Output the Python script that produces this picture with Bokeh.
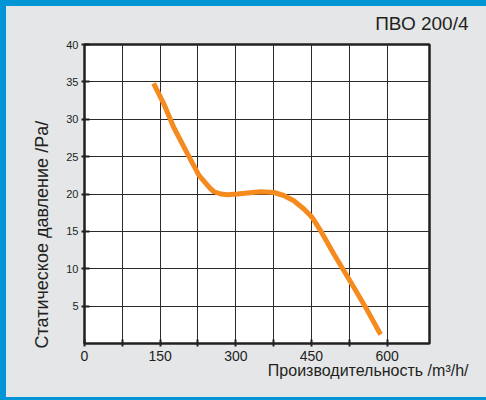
from bokeh.plotting import figure
from bokeh.models import FixedTicker, Range1d, Title
from bokeh.embed import file_html
from bokeh.resources import INLINE

# ---- data ----
flow = [137, 157, 177, 204, 227, 250, 257, 270, 283, 303, 349, 376, 395, 415, 435, 451, 468, 494, 528, 561, 587]
pressure = [34.8, 32.1, 28.9, 25.4, 22.5, 20.7, 20.3, 20.0, 19.9, 20.0, 20.3, 20.2, 19.8, 19.1, 18.0, 16.9, 15.1, 12.0, 8.2, 4.4, 1.2]

x_major = [0, 150, 300, 450, 600]
x_minor = [75, 225, 375, 525]
x_grid = [75, 150, 225, 300, 375, 450, 525, 600]
y_ticks = [5, 10, 15, 20, 25, 30, 35, 40]
y_grid = [5, 10, 15, 20, 25, 30, 35]

title_text = "ПВО 200/4"
x_title = "Производительность /m³/h/"
y_title = "Статическое давление /Pa/"

FONT = "Liberation Sans"
TXT = "#231F20"
GRAY = "#E5E6E8"
BLUE = "#0096D6"

p = figure(width=470, height=384, output_backend="svg", toolbar_location=None,
           x_range=Range1d(0, 684), y_range=Range1d(0, 40),
           min_border_left=84, min_border_right=41, min_border_top=44, min_border_bottom=41)

shadows = [
    f"16px 6px 0 0 {GRAY}",
    f"6px 13px 0 0 {GRAY}",
    f"16px 13px 0 0 {GRAY}",
    f"16px 16px 0 0 {BLUE}",
    f"0 16px 0 0 {BLUE}",
    f"16px 0 0 0 {BLUE}",
]
p.styles = {
    "background": f"linear-gradient(to right, {BLUE} 6px, transparent 6px), "
                  f"linear-gradient(to bottom, {BLUE} 6px, {GRAY} 6px)",
    "box-shadow": ", ".join(shadows),
}

p.border_fill_color = GRAY
p.border_fill_alpha = 0
p.background_fill_color = "white"
p.outline_line_color = TXT
p.outline_line_width = 2.5

# grid
p.xgrid.ticker = FixedTicker(ticks=x_grid)
p.ygrid.ticker = FixedTicker(ticks=y_grid)
for g in (p.xgrid, p.ygrid):
    g.grid_line_color = "#2a2a2a"
    g.grid_line_width = 1

# x axis
xa = p.xaxis[0]
xa.ticker = FixedTicker(ticks=x_major, minor_ticks=x_minor)
xa.axis_line_color = None
xa.major_tick_line_color = TXT
xa.minor_tick_line_color = TXT
xa.major_tick_line_width = 2
xa.minor_tick_line_width = 2
xa.major_tick_in = 4
xa.major_tick_out = 3
xa.minor_tick_in = 4
xa.minor_tick_out = 3
xa.major_label_text_font = FONT
xa.major_label_text_font_size = "14px"
xa.major_label_text_color = TXT
xa.major_label_standoff = 4

# y axis
ya = p.yaxis[0]
ya.ticker = FixedTicker(ticks=y_ticks, minor_ticks=[])
ya.axis_line_color = None
ya.major_tick_line_color = TXT
ya.major_tick_line_width = 2
ya.major_tick_in = 5
ya.major_tick_out = 3
ya.minor_tick_line_color = None
ya.major_label_text_font = FONT
ya.major_label_text_font_size = "11px"
ya.major_label_text_color = TXT
ya.major_label_standoff = 3

# curve
p.line(flow, pressure, line_color="#F58A1F", line_width=5, line_join="round", line_cap="butt")

# titles
p.title.text = title_text
p.title.align = "right"
p.title.offset = -39
p.title.vertical_align = "middle"
p.title.standoff = 20
p.title.text_font = FONT
p.title.text_font_size = "19px"
p.title.text_font_style = "normal"
p.title.text_color = TXT

p.add_layout(Title(text=x_title, align="right", offset=-39, vertical_align="top", standoff=-4,
                   text_font=FONT, text_font_size="16px", text_font_style="normal",
                   text_color=TXT), "below")
p.add_layout(Title(text=y_title, align="left", offset=-5, vertical_align="middle", standoff=22,
                   text_font=FONT, text_font_size="18px", text_font_style="normal",
                   text_color=TXT), "left")

open("out.html", "w").write(file_html(p, INLINE))
